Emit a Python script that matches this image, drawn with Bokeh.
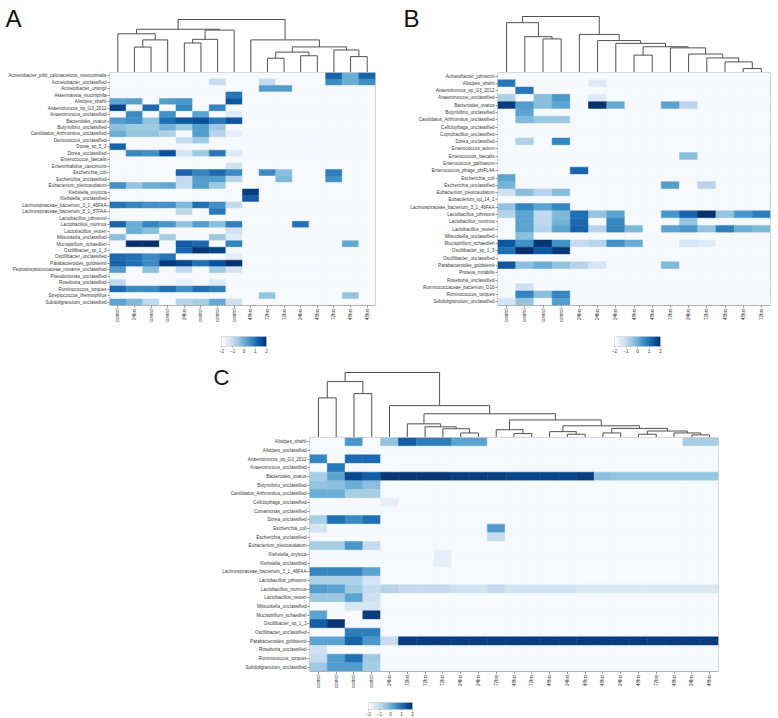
import numpy as np
from bokeh.plotting import figure
from bokeh.models import LinearColorMapper, FixedTicker, Spacer, ColumnDataSource
from bokeh.layouts import column, row
from bokeh.core.properties import value
from bokeh.embed import file_html
from bokeh.resources import INLINE

_ = -1.85  # absent taxa (lowest scaled abundance)

# ---------------- Panel A ----------------
A_ROWS = ["Acinetobacter_pittii_calcoaceticus_nosocomialis", "Acinetobacter_unclassified", "Acinetobacter_ursingii",
          "Akkermansia_muciniphila", "Alistipes_shahii", "Anaerotruncus_sp_G3_2012", "Anaerotruncus_unclassified",
          "Bacteroides_ovatus", "Butyrivibrio_unclassified", "Candidatus_Arthromitus_unclassified",
          "Deinococcus_unclassified", "Dorea_sp_5_2", "Dorea_unclassified", "Enterococcus_faecalis",
          "Enterorhabdus_caecimuris", "Escherichia_coli", "Escherichia_unclassified", "Eubacterium_plexicaudatum",
          "Klebsiella_oxytoca", "Klebsiella_unclassified", "Lachnospiraceae_bacterium_3_1_46FAA",
          "Lachnospiraceae_bacterium_8_1_57FAA", "Lactobacillus_johnsonii", "Lactobacillus_murinus",
          "Lactobacillus_reuteri", "Mitsuokella_unclassified", "Mucispirillum_schaedleri", "Oscillibacter_sp_1_3",
          "Oscillibacter_unclassified", "Parabacteroides_goldsteinii", "Peptostreptococcaceae_noname_unclassified",
          "Pseudomonas_unclassified", "Roseburia_unclassified", "Ruminococcus_torques",
          "Streptococcus_thermophilus", "Subdoligranulum_unclassified"]
A_COLS = ["control", "24hrs", "control", "control", "24hrs", "control", "control", "control",
          "48hrs", "72hrs", "72hrs", "24hrs", "48hrs", "72hrs", "48hrs", "48hrs"]
A_VALUES = [
    [_, _, _, _, _, _, _, _, _, _, _, _, _, 1.2, 0.0, 1.2],
    [_, _, _, _, _, _, -1.0, _, _, -1.0, _, _, _, 0.6, 0.0, 0.5],
    [_, _, _, _, _, _, _, _, _, 0.3, 0.3, _, _, _, _, _],
    [_, _, _, _, _, _, _, 0.9, _, _, _, _, _, _, _, _],
    [0.2, 0.3, _, 0.3, 0.4, _, _, 1.4, _, _, _, _, _, _, _, _],
    [1.7, _, 1.1, _, 0.7, _, 0.7, _, _, _, _, _, _, _, _, _],
    [_, 0.6, _, 0.5, _, 0.2, _, -1.5, _, _, _, _, _, _, _, _],
    [0.3, 0.5, -0.4, 1.0, 1.4, 1.5, 0.9, 1.4, _, _, _, _, _, _, _, _],
    [-0.3, -0.5, -0.5, -0.1, -0.5, 0.3, -0.5, _, _, _, _, _, _, _, _, _],
    [0.0, -0.4, -0.4, -0.7, _, 0.3, -0.8, -1.6, _, _, _, _, _, _, _, _],
    [_, _, _, _, -1.0, -0.5, _, _, _, _, _, _, _, _, _, _],
    [1.2, _, _, _, _, _, _, _, _, _, _, _, _, _, _, _],
    [_, 0.7, 0.5, 1.5, -1.3, -0.5, 0.9, -1.5, _, _, _, _, _, _, _, _],
    [_, _, _, _, _, _, _, _, _, _, _, _, _, _, _, _],
    [_, _, _, _, _, _, _, -1.2, _, _, _, _, _, _, _, _],
    [_, _, _, _, 1.2, 0.7, 1.1, 0.6, _, 0.6, -0.3, _, _, 0.8, _, _],
    [_, _, _, _, -1.0, 0.3, 0.3, -0.8, _, _, -0.2, _, _, 0.5, _, _],
    [0.5, -0.4, 0.0, 0.1, -1.0, 0.3, -0.5, _, _, _, _, _, _, _, _, _],
    [_, _, _, _, _, _, _, _, 1.8, _, _, _, _, _, _, _],
    [_, _, _, _, _, _, _, _, 1.3, _, _, _, _, _, _, _],
    [0.9, 0.7, 0.5, 0.5, -0.2, 1.0, 0.5, -1.0, _, _, _, _, _, _, _, _],
    [_, _, _, _, -0.9, _, 0.9, _, _, _, _, _, _, _, _, _],
    [_, _, _, _, _, _, _, _, _, _, _, _, _, _, _, _],
    [1.2, 0.0, 0.7, 0.4, -0.4, 0.3, -0.3, 0.8, _, _, _, 1.0, _, _, _, _],
    [_, 0.0, -0.3, _, _, _, _, -1.2, _, _, _, _, _, _, _, _],
    [-0.3, _, _, -0.6, _, _, -0.5, -1.5, _, _, _, _, _, _, _, _],
    [_, 2.0, 2.0, _, 1.3, 1.1, _, 0.7, _, _, _, _, _, _, 0.1, _],
    [_, _, _, _, 1.2, 1.9, 1.7, _, _, _, _, _, _, _, _, _],
    [1.1, 1.0, 0.6, 0.9, _, _, _, -1.6, _, _, _, _, _, _, _, _],
    [1.2, 1.0, 0.6, 1.8, 1.6, 1.0, 1.5, 2.0, _, _, _, _, _, _, _, _],
    [0.3, _, -0.3, _, -1.0, _, -0.5, -1.3, _, _, _, _, _, _, _, _],
    [_, _, _, _, _, _, _, _, _, _, _, _, _, _, _, _],
    [-0.9, _, _, _, -1.6, _, -1.5, _, _, _, _, _, _, _, _, _],
    [1.1, 0.6, 0.6, 1.0, 0.5, 1.0, 0.8, _, _, _, _, _, _, _, _, _],
    [_, _, _, _, _, _, _, _, _, -0.4, _, _, _, _, -0.4, _],
    [0.2, -0.2, -0.9, _, -0.8, -0.6, 0.1, -1.2, _, _, _, _, _, _, _, _],
]
# dendrogram: (left, right, merge height); ints are column positions
A_TREE = (((0, ((1, 2, 0.48), 3, 0.615), 0.73), (((4, 5, 0.557), 6, 0.626), 7, 0.80), 0.816),
          (8, (((9, 10, 0.27), (11, 12, 0.316), 0.385), (13, (14, 15, 0.30), 0.425), 0.483), 0.615), 1.0)

# ---------------- Panel B ----------------
B_ROWS = ["Acinetobacter_johnsonii", "Alistipes_shahii", "Anaerotruncus_sp_G3_2012", "Anaerotruncus_unclassified",
          "Bacteroides_ovatus", "Butyrivibrio_unclassified", "Candidatus_Arthromitus_unclassified",
          "Cellulophaga_unclassified", "Coprobacillus_unclassified", "Dorea_unclassified", "Enterococcus_avium",
          "Enterococcus_faecalis", "Enterococcus_gallinarum", "Enterococcus_phage_phiFL4A", "Escherichia_coli",
          "Escherichia_unclassified", "Eubacterium_plexicaudatum", "Eubacterium_sp_14_2",
          "Lachnospiraceae_bacterium_3_1_46FAA", "Lactobacillus_johnsonii", "Lactobacillus_murinus",
          "Lactobacillus_reuteri", "Mitsuokella_unclassified", "Mucispirillum_schaedleri", "Oscillibacter_sp_1_3",
          "Oscillibacter_unclassified", "Parabacteroides_goldsteinii", "Proteus_mirabilis", "Roseburia_unclassified",
          "Ruminococcaceae_bacterium_D16", "Ruminococcus_torques", "Subdoligranulum_unclassified"]
B_COLS = ["control", "control", "control", "control", "24hrs", "24hrs", "24hrs", "48hrs", "48hrs",
          "72hrs", "24hrs", "72hrs", "48hrs", "48hrs", "72hrs"]
B_VALUES = [
    [_, _, _, _, _, _, _, _, _, _, _, _, _, _, _],
    [0.9, _, _, _, _, -1.5, _, _, _, _, _, _, _, _, _],
    [_, 0.9, _, _, _, _, _, _, _, _, _, _, _, _, _],
    [-0.7, _, -0.3, 0.4, _, -1.5, _, _, _, _, _, _, _, _, _],
    [1.8, 0.3, -0.3, 0.2, _, 2.0, 0.1, _, _, 0.2, -0.8, _, _, _, _],
    [_, 0.2, _, _, _, _, _, _, _, _, _, _, _, _, _],
    [_, -0.2, -0.5, -0.5, _, _, _, _, _, _, _, _, _, _, _],
    [_, _, _, _, _, _, _, _, _, _, _, _, _, _, _],
    [_, _, _, _, _, _, _, _, _, _, _, _, _, _, _],
    [_, -0.7, _, 0.7, _, _, _, _, _, _, _, _, _, _, _],
    [_, _, _, _, _, _, _, _, _, _, _, _, _, _, _],
    [_, _, _, _, _, _, _, _, _, _, -0.3, _, _, _, _],
    [_, _, _, _, _, _, _, _, _, _, _, _, _, _, _],
    [_, _, _, _, 1.2, _, _, _, _, _, _, _, _, _, _],
    [0.2, _, _, _, _, _, _, _, _, _, _, _, _, _, _],
    [-0.1, _, _, _, _, _, _, _, _, 0.3, _, -0.8, _, _, _],
    [-1.2, -0.3, -0.8, -0.3, _, _, _, _, _, _, _, _, _, _, _],
    [_, _, _, _, _, _, _, _, _, _, _, _, _, _, _],
    [-0.4, 0.7, 0.2, 0.7, _, _, _, _, _, _, _, _, _, _, _],
    [-0.8, 0.2, -0.9, -0.2, 1.0, -0.4, 0.2, _, _, 0.4, 1.2, 2.0, -0.4, 0.4, 0.8],
    [_, 0.2, -0.9, -0.1, 1.1, _, 0.7, _, _, _, -0.4, _, _, _, _],
    [_, 0.2, -0.8, 0.2, 1.2, -0.8, 0.7, -0.2, _, 0.2, 0.4, -0.4, 0.8, 0.0, -0.2],
    [_, -0.3, _, _, _, _, _, _, _, _, _, _, _, _, _],
    [1.4, 0.5, 1.9, 0.5, -1.0, -0.8, 0.5, 0.0, _, _, -1.3, -1.5, _, _, _],
    [1.0, 2.0, 1.4, 1.9, _, _, _, _, _, _, _, _, _, _, _],
    [_, _, _, _, _, _, _, _, _, _, _, _, _, _, _],
    [1.4, -0.3, 0.0, -0.4, -0.8, -1.3, _, _, _, -0.2, _, _, _, _, _],
    [_, _, _, _, _, _, _, _, _, _, _, _, _, _, _],
    [_, _, _, _, _, _, _, _, _, _, _, _, _, _, _],
    [_, -1.2, _, _, _, _, _, _, _, _, _, _, _, _, _],
    [_, 0.7, -0.3, 0.7, _, _, _, _, _, _, _, _, _, _, _],
    [-1.3, -0.4, _, 0.3, _, _, _, _, _, _, _, _, _, _, _],
]
B_TREE = ((0, (1, (2, 3, 0.60), 0.64), 0.89),
          (4, (5, (6, ((7, 8, 0.31), (9, (10, (11, (12, (13, 14, 0.07), 0.19), 0.26), 0.33), 0.44), 0.46),
                   0.52), 0.57), 0.68), 1.0)

# ---------------- Panel C ----------------
C_ROWS = ["Alistipes_shahii", "Alistipes_unclassified", "Anaerotruncus_sp_G3_2012", "Anaerotruncus_unclassified",
          "Bacteroides_ovatus", "Butyrivibrio_unclassified", "Candidatus_Arthromitus_unclassified",
          "Cellulophaga_unclassified", "Comamonas_unclassified", "Dorea_unclassified", "Escherichia_coli",
          "Escherichia_unclassified", "Eubacterium_plexicaudatum", "Klebsiella_oxytoca", "Klebsiella_unclassified",
          "Lachnospiraceae_bacterium_3_1_46FAA", "Lactobacillus_johnsonii", "Lactobacillus_murinus",
          "Lactobacillus_reuteri", "Mitsuokella_unclassified", "Mucispirillum_schaedleri", "Oscillibacter_sp_1_3",
          "Oscillibacter_unclassified", "Parabacteroides_goldsteinii", "Roseburia_unclassified",
          "Ruminococcus_torques", "Subdoligranulum_unclassified"]
C_COLS = ["control", "control", "control", "control", "24hrs", "72hrs", "72hrs", "72hrs", "24hrs", "24hrs",
          "72hrs", "48hrs", "72hrs", "48hrs", "24hrs", "48hrs", "48hrs", "24hrs", "48hrs", "72hrs",
          "48hrs", "24hrs", "48hrs"]
C_VALUES = [
    [_, _, 0.4, _, -0.4, 1.3, 0.8, 0.8, 0.2, 0.2, _, _, _, _, _, _, _, _, _, _, _, -0.6, -0.6],
    [_, _, _, _, _, _, _, _, _, _, _, _, _, _, _, _, _, _, _, _, _, _, _],
    [0.7, _, 1.1, 1.1, _, _, _, _, _, _, _, _, _, _, _, _, _, _, _, _, _, _, _],
    [_, 0.9, _, _, _, _, _, _, _, _, _, _, _, _, _, _, _, _, _, _, _, _, _],
    [-0.6, 0.2, 1.6, 1.3, 1.9, 1.9, 1.9, 1.9, 1.8, 1.8, 1.8, 1.7, 1.7, 1.7, 1.7, 1.8, -0.3, -0.4, -0.4, -0.4, -0.4, -0.4, -0.4],
    [-0.4, -0.3, 0.0, -0.3, _, _, _, _, _, _, _, _, _, _, _, _, _, _, _, _, _, _, _],
    [0.0, 0.0, -0.6, -0.6, _, _, _, _, _, _, _, _, _, _, _, _, _, _, _, _, _, _, _],
    [_, _, _, _, -1.6, _, _, _, _, _, _, _, _, _, _, _, _, _, _, _, _, _, _],
    [_, _, _, _, _, _, _, _, _, _, _, _, _, _, _, _, _, _, _, _, _, _, _],
    [-0.6, 1.0, 0.6, 1.0, _, _, _, _, _, _, _, _, _, _, _, _, _, _, _, _, _, _, _],
    [-1.3, _, _, _, _, _, _, _, _, _, 0.3, _, _, _, _, _, _, _, _, _, _, _, _],
    [_, _, _, _, _, _, _, _, _, _, -1.0, _, _, _, _, _, _, _, _, _, _, _, _],
    [-0.6, -0.6, 0.4, -1.0, _, _, _, _, _, _, _, _, _, _, _, _, _, _, _, _, _, _, _],
    [_, _, _, _, _, _, _, -1.6, _, _, _, _, _, _, _, _, _, _, _, _, _, _, _],
    [_, _, _, _, _, _, _, -1.6, _, _, _, _, _, _, _, _, _, _, _, _, _, _, _],
    [0.7, 0.7, 0.7, 0.2, _, _, _, _, _, _, _, _, _, _, _, _, _, _, _, _, _, _, _],
    [-0.7, -0.7, -0.7, -1.3, _, _, _, _, _, _, _, _, _, _, _, _, _, _, _, _, _, _, _],
    [0.3, 0.2, -0.5, -1.0, -0.8, -1.0, -1.0, -1.0, -1.2, -1.2, -1.0, -1.2, -1.2, -1.2, -1.2, -1.4, -1.4, -1.4, -1.4, -1.4, -1.4, -1.4, -1.4],
    [-0.5, -0.5, 0.2, -1.2, _, _, _, _, _, _, _, _, _, _, _, _, _, _, _, _, _, _, _],
    [_, _, -1.3, -1.3, _, _, _, _, _, _, _, _, _, _, _, _, _, _, _, _, _, _, _],
    [0.2, _, _, 1.8, _, _, _, _, _, _, _, _, _, _, _, _, _, _, _, _, _, _, _],
    [1.3, 1.9, _, _, _, _, _, _, _, _, _, _, _, _, _, _, _, _, _, _, _, _, _],
    [_, _, 0.8, 0.8, _, _, _, _, _, _, _, _, _, _, _, _, _, _, _, _, _, _, _],
    [0.2, 0.2, 1.2, 0.4, -1.0, 1.8, 1.8, 1.8, 1.8, 1.8, 1.8, 1.8, 1.8, 1.8, 1.8, 1.8, 1.8, 1.8, 1.8, 1.8, 1.8, 1.8, 1.8],
    [-1.2, _, _, _, _, _, _, _, _, _, _, _, _, _, _, _, _, _, _, _, _, _, _],
    [-1.0, 0.3, 1.0, -0.5, _, _, _, _, _, _, _, _, _, _, _, _, _, _, _, _, _, _, _],
    [-0.5, 0.3, 0.3, -0.6, _, _, _, _, _, _, _, _, _, _, _, _, _, _, _, _, _, _, _],
]
C_TREE = (((0, 1, 0.61), (2, 3, 0.675), 0.86),
          (4, ((5, (6, (7, (8, 9, 0.07), 0.135), 0.165), 0.21),
               ((10, (11, 12, 0.06), 0.12),
                ((13, (14, 15, 0.05), 0.09), ((16, 17, 0.07), ((18, 19, 0.05), (20, (21, 22, 0.04), 0.07), 0.10),
                                              0.14), 0.18), 0.27), 0.365), 0.49), 1.0)

COLORBAR_TICKS = [-2, -1, 0, 1, 2]
BLUES = ["#ffffff", "#deebf7", "#c6dbef", "#9ecae1", "#6baed6", "#4292c6", "#2171b5", "#08519c", "#08306b"]

FONT = "Liberation Sans"


def ramp(stops, n=256):
    rgb = np.array([[int(s[i:i + 2], 16) for i in (1, 3, 5)] for s in stops], float)
    pos = np.linspace(0, 1, len(stops))
    t = np.linspace(0, 1, n)
    cols = np.stack([np.interp(t, pos, rgb[:, k]) for k in range(3)], axis=1)
    return ["#%02x%02x%02x" % tuple(int(round(c)) for c in rc) for rc in cols]


mapper = LinearColorMapper(palette=ramp(BLUES), low=COLORBAR_TICKS[0], high=COLORBAR_TICKS[-1])


def dendro(tree, scale):
    xs, ys = [], []

    def walk(node):
        if isinstance(node, int):
            return float(node), 0.0
        l, r, h = node
        xl, yl = walk(l)
        xr, yr = walk(r)
        yh = h * scale
        xs.append([xl, xl, xr, xr])
        ys.append([yl, yh, yh, yr])
        return (xl + xr) / 2.0, yh

    walk(tree)
    return xs, ys


def style_axis(ax, size="4.6px"):
    ax.major_label_text_font = FONT
    ax.major_label_text_font_size = size
    ax.major_label_text_color = "#3a3a3a"
    ax.major_tick_line_color = "#8c8c8c"
    ax.major_tick_out = 2
    ax.major_tick_in = 0
    ax.minor_tick_line_color = None
    ax.major_label_standoff = 1


def dendro_fig(tree, nc, frame_w, fig_w, fig_h, frame_left, root_px, letter, lx, ly, lsize):
    cpx = frame_w / nc
    x0 = -0.5 - frame_left / cpx
    p = figure(width=fig_w, height=fig_h, x_range=(x0, x0 + fig_w / cpx), y_range=(0, fig_h),
               output_backend="svg", toolbar_location=None, x_axis_location=None, y_axis_location=None,
               min_border=0)
    p.outline_line_color = None
    p.grid.visible = False
    dx, dy = dendro(tree, root_px)
    p.multi_line(dx, dy, line_color="#505050", line_width=1)
    p.text(x=[x0 + lx / cpx], y=[fig_h - ly], text=[letter], text_font=value(FONT),
           text_font_size=lsize, text_color="#111111", text_baseline="top", text_align="left")
    return p


def heat_fig(rows, cols, values, frame_w, heat_h, bl, br, bb):
    nr, nc = len(rows), len(cols)
    p = figure(width=bl + frame_w + br, height=heat_h + bb,
               x_range=(-0.5, nc - 0.5), y_range=(-0.5, nr - 0.5),
               output_backend="svg", toolbar_location=None,
               min_border_left=bl, min_border_right=br, min_border_top=0, min_border_bottom=bb)
    p.outline_line_color = None
    p.grid.visible = False
    xs, ys, vs = [], [], []
    for i, rv in enumerate(values):
        for j, v in enumerate(rv):
            xs.append(j)
            ys.append(nr - 1 - i)
            vs.append(v)
    src = ColumnDataSource(dict(x=xs, y=ys, v=vs))
    cmap = {"field": "v", "transform": mapper}
    p.rect("x", "y", 1, 1, source=src, fill_color=cmap, line_color=cmap, line_width=0.5)
    p.quad(left=[-0.5], right=[nc - 0.5], bottom=[-0.5], top=[nr - 0.5],
           fill_color=None, line_color="#b4b4b4", line_width=1)
    ya = p.yaxis[0]
    ya.ticker = FixedTicker(ticks=list(range(nr)))
    ya.major_label_overrides = {nr - 1 - i: name for i, name in enumerate(rows)}
    ya.axis_line_color = None
    style_axis(ya)
    xa = p.xaxis[0]
    xa.ticker = FixedTicker(ticks=list(range(nc)))
    xa.major_label_overrides = {j: c for j, c in enumerate(cols)}
    xa.major_label_orientation = np.pi / 2
    xa.axis_line_color = "#b4b4b4"
    style_axis(xa)
    return p


def colorbar(bar_w, bar_h, bl, br, bt, bb):
    lo, hi = mapper.low, mapper.high
    p = figure(width=bl + bar_w + br, height=bt + bar_h + bb, x_range=(lo, hi), y_range=(0, 1),
               output_backend="svg", toolbar_location=None,
               min_border_left=bl, min_border_right=br, min_border_top=bt, min_border_bottom=bb)
    p.outline_line_color = "#d9d9d9"
    p.grid.visible = False
    grad = np.linspace(lo, hi, 256).reshape(1, -1)
    p.image(image=[grad], x=lo, y=0, dw=hi - lo, dh=1, color_mapper=mapper)
    p.yaxis.visible = False
    xa = p.xaxis[0]
    xa.ticker = FixedTicker(ticks=COLORBAR_TICKS)
    xa.axis_line_color = None
    style_axis(xa, "4.6px")
    xa.major_tick_out = 1
    return p


# Panel A
dA = dendro_fig(A_TREE, len(A_COLS), 266, 398, 72, 109, 53, "A", 5, 4, "24px")
hA = heat_fig(A_ROWS, A_COLS, A_VALUES, 266, 233, 109, 23, 25)
# Panel B
dB = dendro_fig(B_TREE, len(B_COLS), 273, 380, 72, 99, 56, "B", 5, 4, "24px")
hB = heat_fig(B_ROWS, B_COLS, B_VALUES, 273, 233, 99, 8, 25)
# colour keys A / B
cbA = colorbar(45, 10, 6, 6, 6, 14)
cbB = colorbar(46, 10, 6, 6, 6, 14)
# Panel C
dC = dendro_fig(C_TREE, len(C_COLS), 409, 578, 77, 109, 65, "C", 13, 4, "22px")
hC = heat_fig(C_ROWS, C_COLS, C_VALUES, 409, 234, 109, 60, 31)
cbC = colorbar(44, 8, 6, 6, 0, 8)

layout = column(
    row(dA, dB),
    row(hA, hB),
    row(Spacer(width=215, height=30), cbA, Spacer(width=336, height=30), cbB),
    row(Spacer(width=200, height=77), dC),
    row(Spacer(width=200, height=265), hC),
    row(Spacer(width=362, height=16), cbC),
)

open("out.html", "w").write(file_html(layout, INLINE))
